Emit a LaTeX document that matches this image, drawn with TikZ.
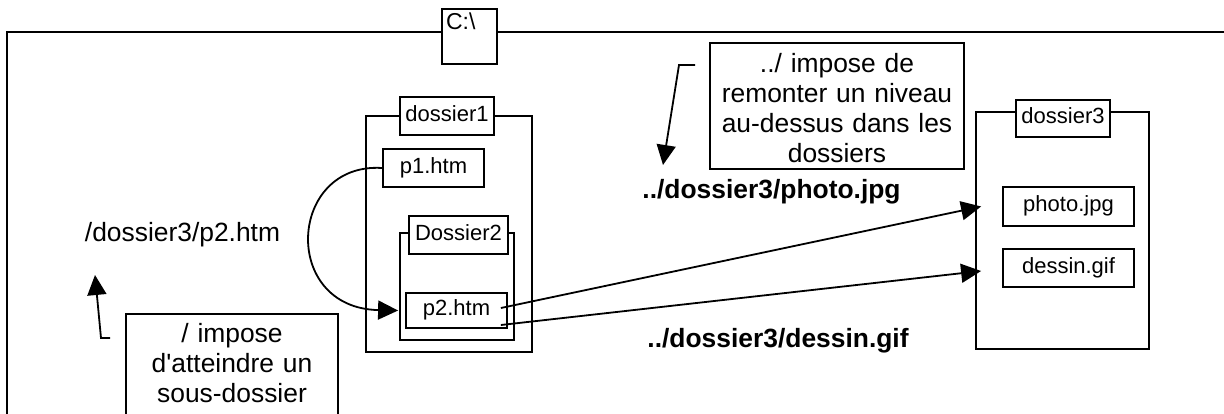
\documentclass[tikz,border=0pt]{standalone}
\usepackage{fontspec}
\setmainfont{Liberation Sans}[Ligatures=TeXOff]
\usetikzlibrary{arrows.meta}
\newcommand\bigtxt{\fontsize{26.4}{30}\selectfont}
\newcommand\smalltxt{\fontsize{22}{24}\selectfont}

\begin{document}
\begin{tikzpicture}[x=1pt,y=-1pt,line width=1.8pt]
\tikzset{file/.style={draw,fill=white,font=\smalltxt,text height=15.5pt,text depth=4.5pt,inner sep=0pt}}
\tikzset{note/.style={draw,fill=white,font=\bigtxt,align=center,inner xsep=0pt,inner ysep=0pt,anchor=north}}
\tikzset{link/.style={-{Triangle[length=20pt,width=19pt]}}}
\tikzset{path/.style={font=\bigtxt,anchor=base}}
\useasboundingbox (0,0) rectangle (1224,414);
\clip (0,0) rectangle (1224,414);

% folders
\draw (7,32) rectangle (1240,430);
\draw (366,116) rectangle (532,352);
\draw (400,233) rectangle (514,340);
\draw (976,112) rectangle (1149,349);

\node[file,font=\fontsize{23}{24}\selectfont,text width=47pt,inner xsep=4pt,align=left,text height=21pt,text depth=34pt] (drive) at (469.5,36.5) {C:\textbackslash};
\node[file,minimum width=94pt,minimum height=38pt] (d1) at (447,116) {dossier1};
\node[file,minimum width=99pt,minimum height=38pt] (d2) at (458.5,235) {Dossier2};
\node[file,minimum width=94pt,minimum height=37pt] (d3) at (1063,118.5) {dossier3};

% files
\node[file,minimum width=101pt,minimum height=38pt] (p1) at (433.5,168) {p1.htm};
\node[file,minimum width=101pt,minimum height=35pt] (p2) at (456.5,310.5) {p2.htm};
\node[file,minimum width=131pt,minimum height=39pt] (photo) at (1068.5,206.5) {photo.jpg};
\node[file,minimum width=131pt,minimum height=38pt] (dessin) at (1068.5,268) {dessin.gif};

% paths
\node[path] (abs) at (182.5,242) {/dossier3/p2.htm};
\node[path,font=\bigtxt\bfseries] (relphoto) at (771.5,199) {../dossier3/photo.jpg};
\node[path,font=\bigtxt\bfseries] (reldessin) at (778,347) {../dossier3/dessin.gif};

% notes
\node[note,text width=254pt,text height=30pt,text depth=96pt] (up) at (837,42)
  {../ impose de\\remonter un niveau\\au-dessus dans les\\dossiers};
\node[note,text width=212pt,text height=29pt,text depth=75pt] (down) at (232,313)
  {/ impose\\d'atteindre un\\sous-dossier};

\coordinate (up1) at (695,65);
\coordinate (up2) at (679,65);
\coordinate (up3) at (663,165);
\draw[link] (up1) -- (up2) -- (up3);
\coordinate (down1) at (110,338);
\coordinate (down2) at (101,338);
\coordinate (down3) at (95,275);
\draw[link] (down1) -- (down2) -- (down3);

% links
\draw[link] (p1.west) .. controls (288,162) and (280,308) .. ([xshift=-7pt]p2.west);
\draw[link] ([shift={(-7pt,2.5pt)}]p2.east) -- ([xshift=-21pt]photo.west);
\draw[link] ([shift={(-7pt,-14.5pt)}]p2.east) -- ([shift={(-21pt,-3pt)}]dessin.west);
\end{tikzpicture}
\end{document}
